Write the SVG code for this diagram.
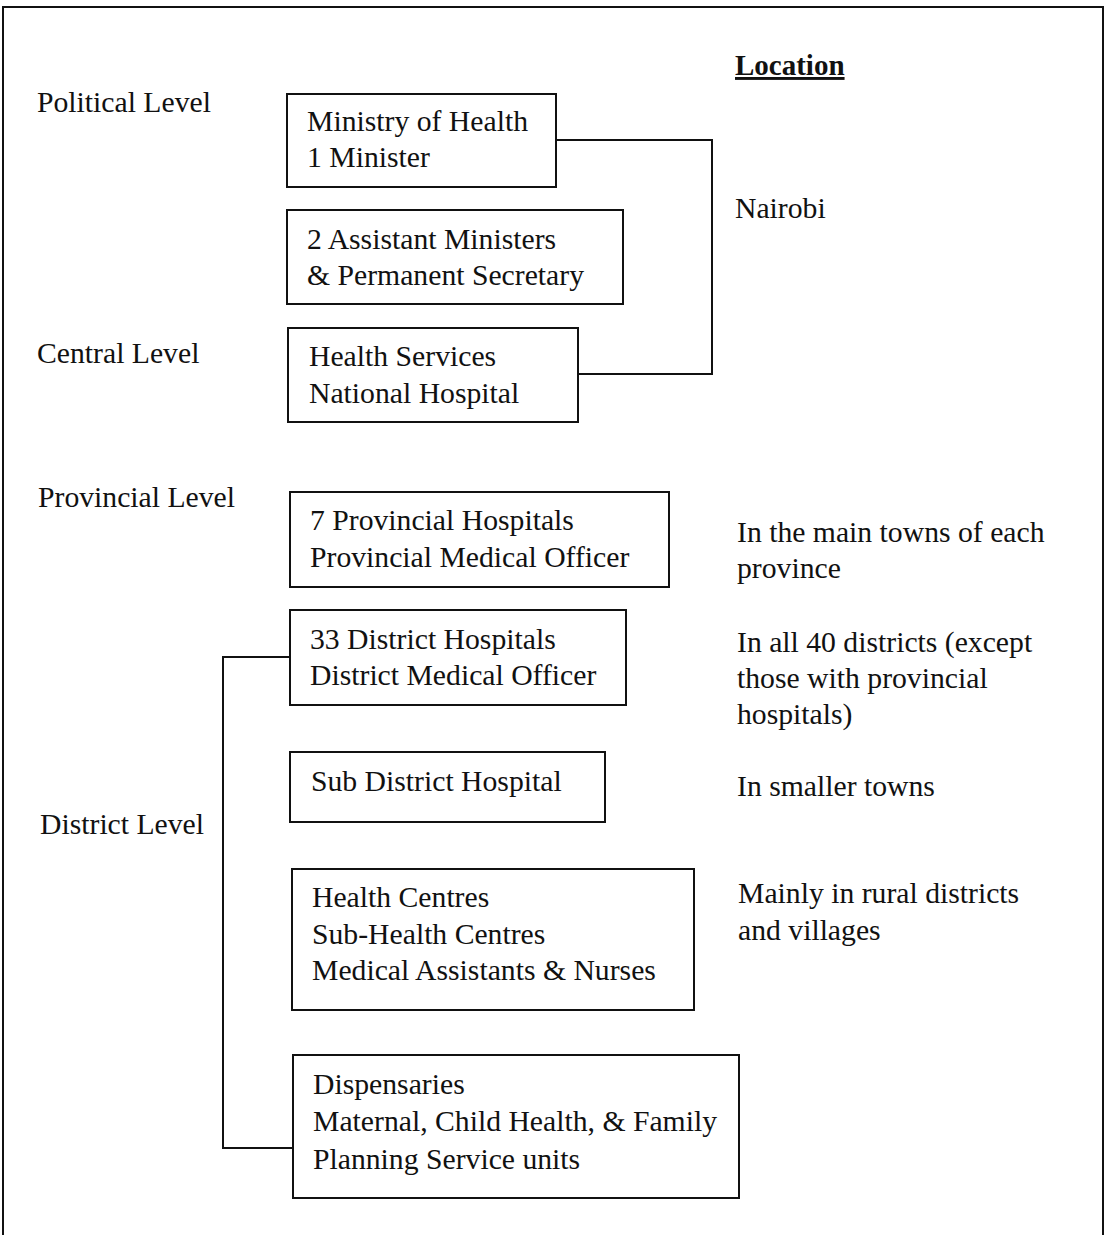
<svg xmlns="http://www.w3.org/2000/svg" width="1109" height="1235" viewBox="0 0 1109 1235">
<style>
text{font-family:"Liberation Serif","Times New Roman",serif;font-size:29.7px;fill:#111}
.box{fill:#fff;stroke:#111;stroke-width:2}
.conn{fill:none;stroke:#111;stroke-width:2}
.frame{fill:none;stroke:#111;stroke-width:2}
.hd{font-weight:bold;text-decoration:underline;font-size:29px}
</style>
<rect width="1109" height="1235" fill="#fff"/>
<path class="frame" d="M3,1235 V7 H1103 V1235"/>
<g id="labels">
<text class="hd" x="735" y="75">Location</text>
<text x="37" y="112">Political Level</text>
<text x="37" y="363">Central Level</text>
<text x="38" y="507">Provincial Level</text>
<text x="40" y="834">District Level</text>
</g>
<g id="connectors">
<path class="conn" d="M556,140 H712 V374 H578"/>
<path class="conn" d="M290,657 H223 V1148 H293"/>
</g>
<g id="ministry">
<rect class="box" x="287" y="94" width="269" height="93"/>
<text x="307" y="131">Ministry of Health</text>
<text x="307" y="167">1 Minister</text>
</g>
<g id="assistant">
<rect class="box" x="287" y="210" width="336" height="94"/>
<text x="307" y="249">2 Assistant Ministers</text>
<text x="307" y="285">&amp; Permanent Secretary</text>
</g>
<g id="health-services">
<rect class="box" x="288" y="328" width="290" height="94"/>
<text x="309" y="366">Health Services</text>
<text x="309" y="403">National Hospital</text>
</g>
<g id="nairobi"><text x="735" y="218">Nairobi</text></g>
<g id="provincial">
<rect class="box" x="290" y="492" width="379" height="95"/>
<text x="310" y="530">7 Provincial Hospitals</text>
<text x="310" y="567">Provincial Medical Officer</text>
</g>
<g id="loc-provincial">
<text x="737" y="542">In the main towns of each</text>
<text x="737" y="578">province</text>
</g>
<g id="district">
<rect class="box" x="290" y="610" width="336" height="95"/>
<text x="310" y="649">33 District Hospitals</text>
<text x="310" y="685">District Medical Officer</text>
</g>
<g id="loc-district">
<text x="737" y="652">In all 40 districts (except</text>
<text x="737" y="688">those with provincial</text>
<text x="737" y="724">hospitals)</text>
</g>
<g id="sub-district">
<rect class="box" x="290" y="752" width="315" height="70"/>
<text x="311" y="791">Sub District Hospital</text>
</g>
<g id="loc-sub"><text x="737" y="796">In smaller towns</text></g>
<g id="health-centres">
<rect class="box" x="292" y="869" width="402" height="141"/>
<text x="312" y="907">Health Centres</text>
<text x="312" y="944">Sub-Health Centres</text>
<text x="312" y="980">Medical Assistants &amp; Nurses</text>
</g>
<g id="loc-rural">
<text x="738" y="903">Mainly in rural districts</text>
<text x="738" y="940">and villages</text>
</g>
<g id="dispensaries">
<rect class="box" x="293" y="1055" width="446" height="143"/>
<text x="313" y="1094">Dispensaries</text>
<text x="313" y="1131">Maternal, Child Health, &amp; Family</text>
<text x="313" y="1169">Planning Service units</text>
</g>
</svg>
